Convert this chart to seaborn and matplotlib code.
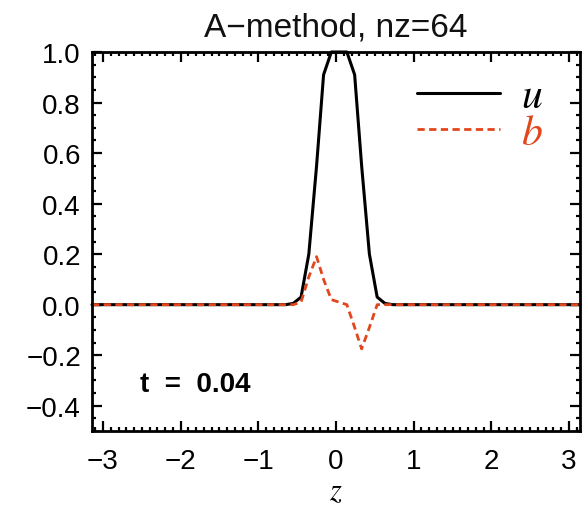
import numpy as np
import matplotlib
matplotlib.use("Agg")
import matplotlib.pyplot as plt
import seaborn as sns

# grid points (flat zero outside the bump)
z = [-np.pi, -0.65, -0.55, -0.45, -0.35, -0.25, -0.16, -0.06, 0.04,
     0.14, 0.24, 0.33, 0.43, 0.53, 0.63, 0.73, np.pi]
u = [0.0, 0.0, 0.005, 0.03, 0.2, 0.55, 0.91, 1.0, 1.0,
     1.0, 0.91, 0.55, 0.2, 0.03, 0.005, 0.0, 0.0]
b = [0.0, 0.0, 0.0, 0.01, 0.11, 0.19, 0.1, 0.02, 0.01,
     0.0, -0.09, -0.175, -0.09, 0.0, 0.0, 0.0, 0.0]

title = "A\u2212method, nz=64"
time_label = "t  =  0.04"
orange = "#e2461c"

sns.set_style("ticks")
plt.rcParams["font.family"] = ["Liberation Sans", "DejaVu Sans"]
plt.rcParams["mathtext.fontset"] = "stix"
plt.rcParams["text.color"] = "black"
plt.rcParams["axes.labelcolor"] = "black"

fig = plt.figure(figsize=(5.88, 5.10), dpi=100)
ax = fig.add_axes([92 / 588, 1 - 432 / 510, 488 / 588, 379 / 510])

sns.lineplot(x=z, y=u, ax=ax, color="black", lw=2.2, label="$u$",
             clip_on=False)
sns.lineplot(x=z, y=b, ax=ax, color=orange, lw=2.0, label="$b$",
             linestyle=(0, (2.6, 1.6)))

ax.set_xlim(-np.pi, np.pi)
ax.set_ylim(-0.5, 1.0)
ax.set_xticks([-3, -2, -1, 0, 1, 2, 3])
ax.set_yticks([-0.4, -0.2, 0.0, 0.2, 0.4, 0.6, 0.8, 1.0])
ax.set_xticklabels(["\u22123", "\u22122", "\u22121", "0", "1", "2", "3"])
ax.set_yticklabels(["\u22120.4", "\u22120.2", "0.0", "0.2", "0.4", "0.6",
                    "0.8", "1.0"])
ax.xaxis.set_minor_locator(matplotlib.ticker.MultipleLocator(0.1))
ax.yaxis.set_minor_locator(matplotlib.ticker.MultipleLocator(0.05))
ax.tick_params(which="both", direction="in", top=True, right=True,
               width=1.6, labelsize=20, colors="black")
ax.tick_params(which="major", length=7)
ax.tick_params(which="minor", length=3)
ax.tick_params(axis="x", pad=12)
ax.tick_params(axis="y", pad=8)
for sp in ax.spines.values():
    sp.set_linewidth(2.0)
    sp.set_color("black")

ax.set_xlabel("$z$", fontsize=22, labelpad=2)
ax.set_ylabel("")
ax.set_title(title, fontsize=24, pad=12, color="#111111")
ax.text(0.098, 0.124, time_label, transform=ax.transAxes, fontsize=20,
        fontweight="bold", va="center", ha="left", color="black")

ax.legend(loc="upper right", bbox_to_anchor=(1.0, 1.035), frameon=False,
          fontsize=30, handlelength=2.0, handletextpad=0.5,
          labelspacing=-0.08, labelcolor=["black", orange])

fig.savefig("out.png", dpi=100)
